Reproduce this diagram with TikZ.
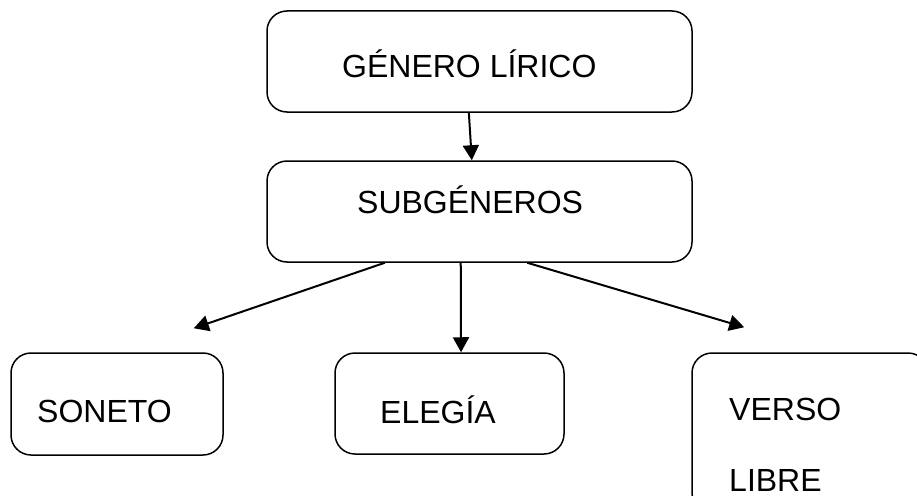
\documentclass[tikz,border=0pt]{standalone}
\usepackage{fontspec}
\setmainfont{Liberation Sans}
\usetikzlibrary{arrows.meta,calc}
\tikzset{
  box/.style={draw=black, line width=1.5pt, rounded corners=20pt, inner sep=0pt, fill=none},
  txt/.style={inner sep=0pt, anchor=base west, font=\fontsize{32}{38}\selectfont},
  arr/.style={line width=2pt, -{Triangle[length=15pt,width=16pt]}}
}
\begin{document}
\begin{tikzpicture}[x=1pt,y=-1pt]
\useasboundingbox (0,0) rectangle (917,495);
\clip (0,0) rectangle (917,495);
\fill[white] (0,0) rectangle (917,495);
% boxes
\node[box, minimum width=425pt, minimum height=101pt] (top) at (479.5,61.5) {};
\node[box, minimum width=425pt, minimum height=101pt] (sub) at (479.5,211.5) {};
\node[box, minimum width=212pt, minimum height=102pt] (son) at (117,404) {};
\node[box, minimum width=229pt, minimum height=101pt] (ele) at (449.5,403.5) {};
\node[box, minimum width=236pt, minimum height=160pt] (ver) at (810,433) {};
% texts
\node[txt] (t1) at (342,77) {GÉNERO LÍRICO};
\node[txt] (t2) at (357,213) {SUBGÉNEROS};
\node[txt] (t3) at (37,422) {SONETO};
\node[txt] (t4) at (380,423) {ELEGÍA};
\node[txt] (t5) at (729,420) {VERSO};
\node[txt] (t6) at (729,491) {LIBRE};
% connectors
\draw[arr] ($(top.south west)!0.475!(top.south east)$) -- ($(sub.north west)!0.482!(sub.north east)$);
\draw[arr] ($(sub.south west)!0.278!(sub.south east)$) -- ($(son.north east)+(-30,-24)$);
\draw[arr] ($(sub.south west)!0.456!(sub.south east)$) -- ($(ele.north west)!0.55!(ele.north east)$);
\draw[arr] ($(sub.south west)!0.612!(sub.south east)$) -- ($(ver.north west)+(53,-25)$);
\end{tikzpicture}
\end{document}
